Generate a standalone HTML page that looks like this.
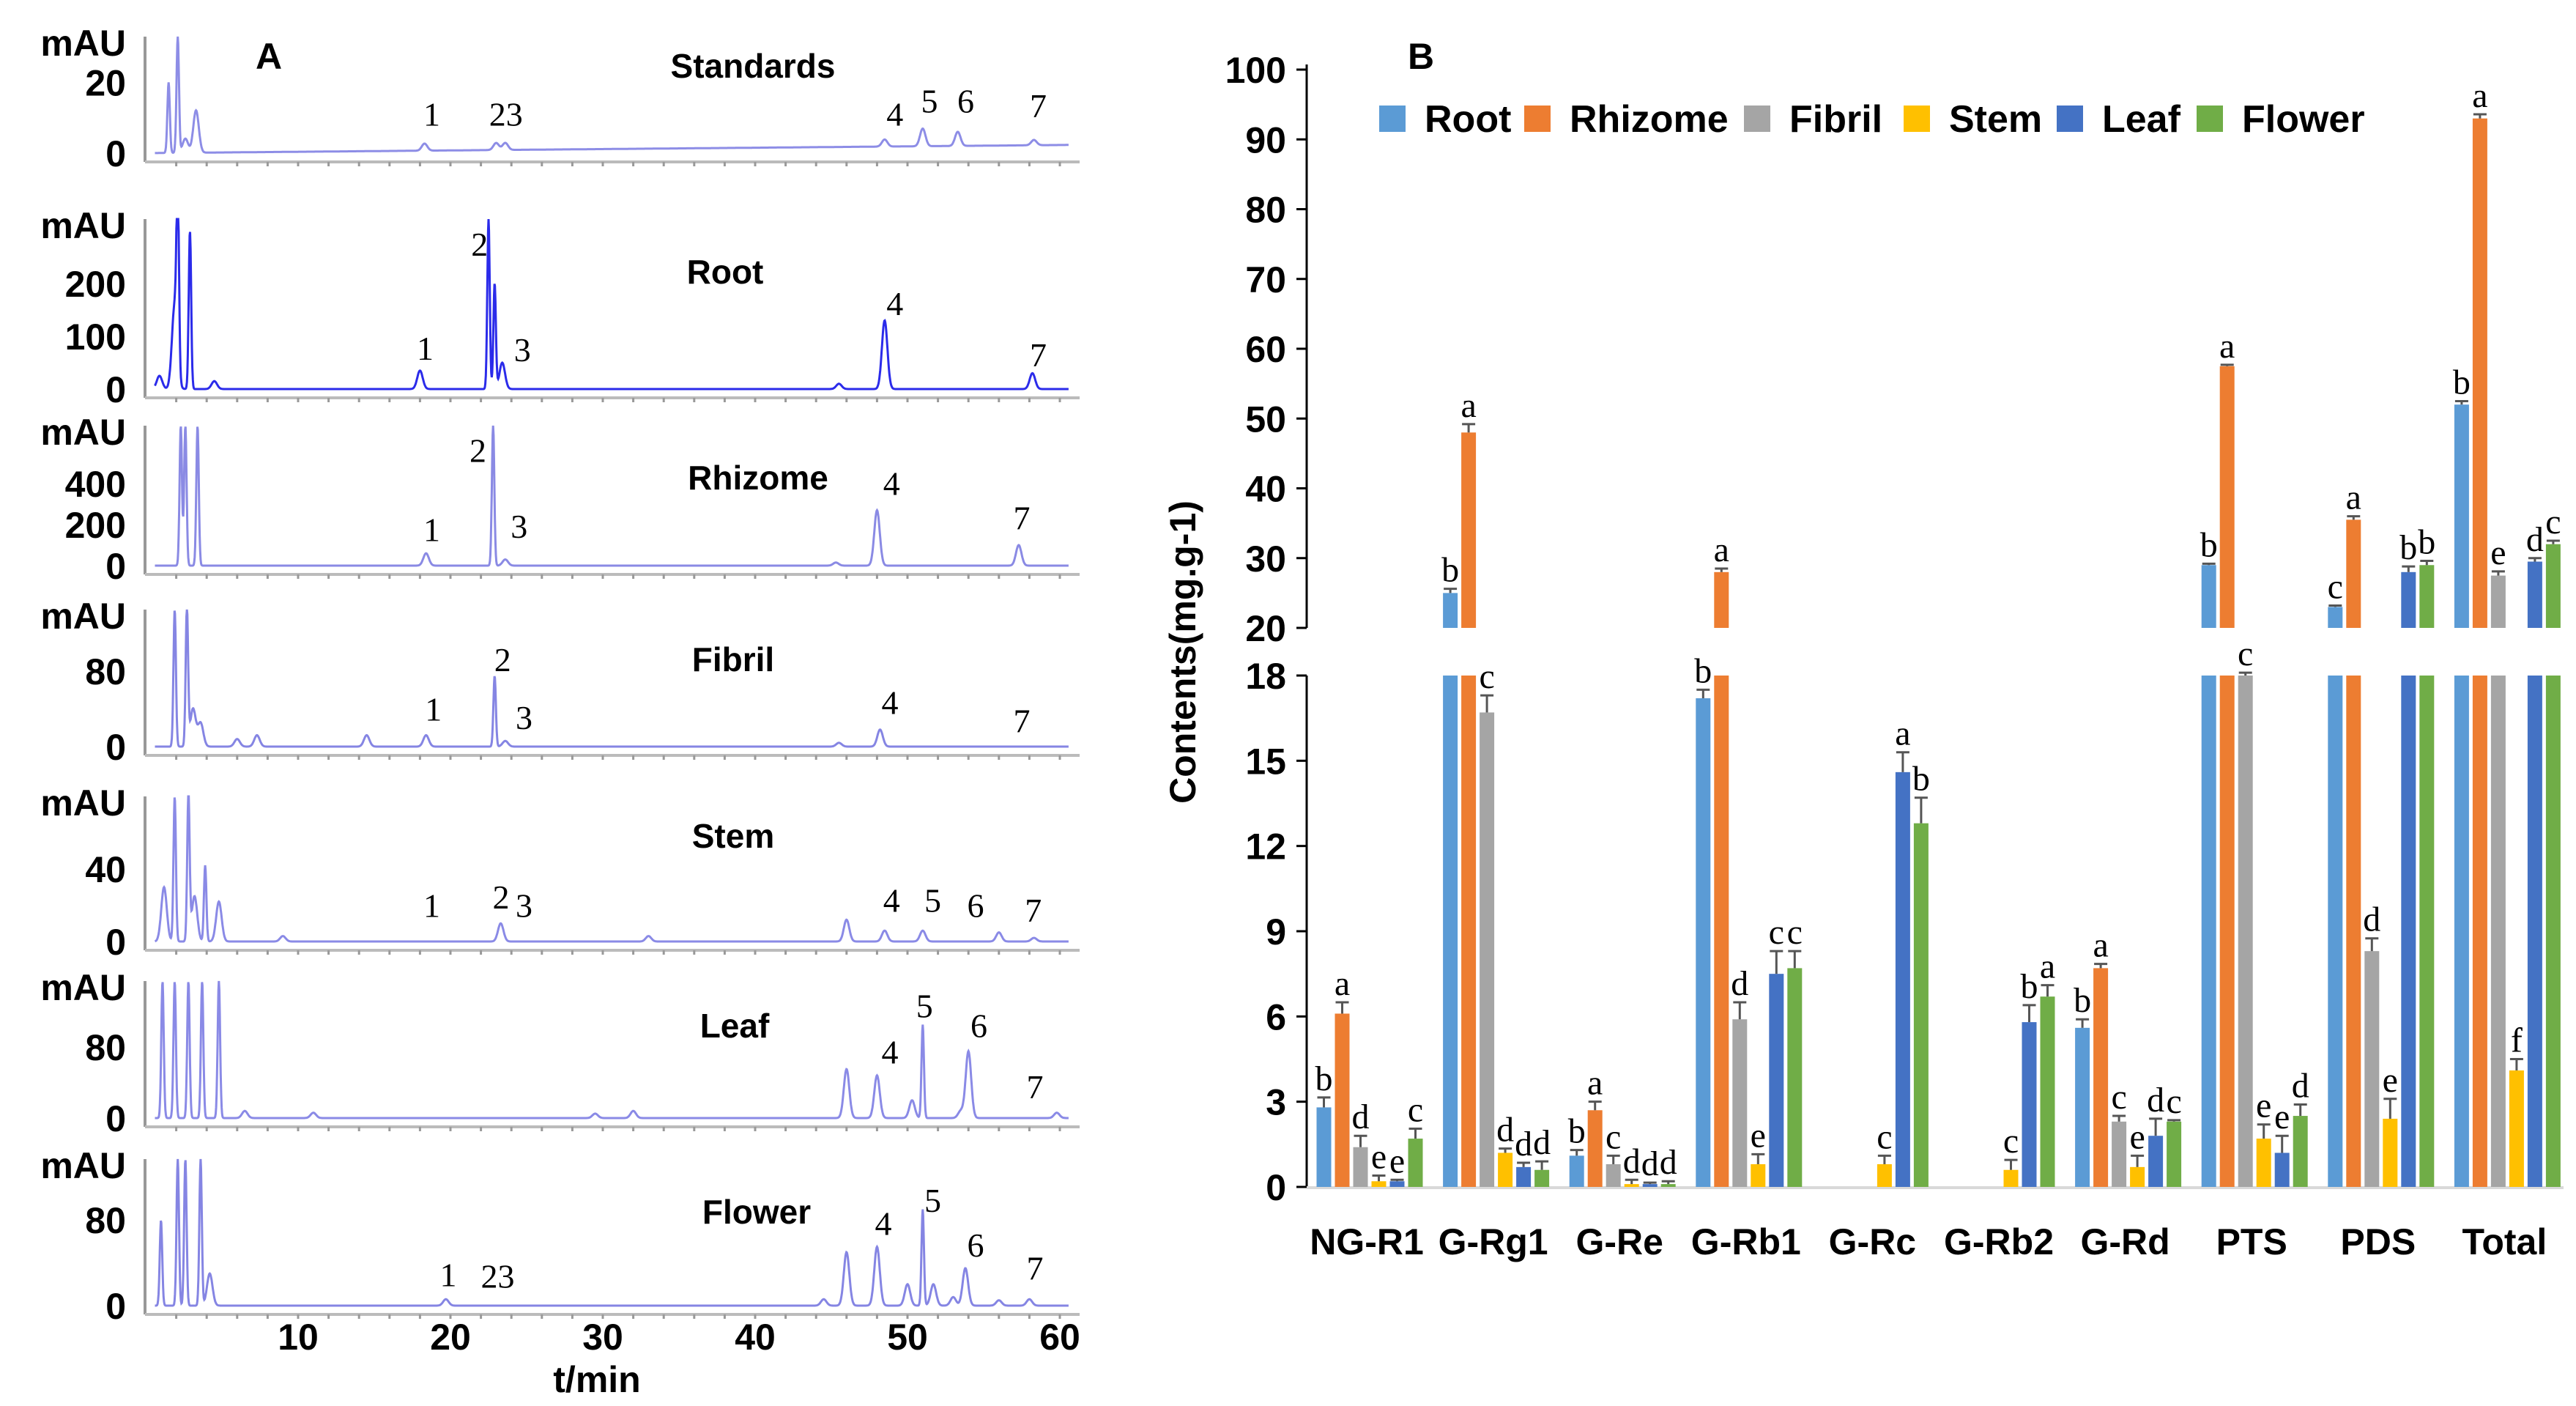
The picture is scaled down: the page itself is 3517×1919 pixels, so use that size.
<!DOCTYPE html>
<html><head><meta charset="utf-8">
<style>
html,body{margin:0;padding:0;background:#fff;}
svg{display:block;}
.tk{font-family:"Liberation Sans Narrow","Liberation Sans",sans-serif;font-weight:bold;font-size:50px;fill:#000;}
.tt{font-family:"Liberation Sans",sans-serif;font-weight:bold;font-size:46px;fill:#000;}
.pk{font-family:"Liberation Serif",serif;font-size:46px;fill:#000;}
.bt{font-family:"Liberation Sans",sans-serif;font-weight:bold;font-size:50px;fill:#000;}
.lg{font-family:"Liberation Sans",sans-serif;font-weight:bold;font-size:52px;fill:#000;}
.lt{font-family:"Liberation Serif",serif;font-size:48px;fill:#000;}
</style></head>
<body>
<svg id="fig" width="3517" height="1919" viewBox="0 0 3517 1919" xmlns="http://www.w3.org/2000/svg">
<g id="panelA"></g>
<g id="panelB"></g>
</svg>
<script>
// ---------- Panel A data ----------
const chromNames = ["Standards","Root","Rhizome","Fibril","Stem","Leaf","Flower"];
const chromTicks = [[0,20],[0,100,200],[0,200,400],[0,80],[0,40],[0,80],[0,80]];
const chromTop = [33,322,682,145,80,154,137];
const peaksStandards = [[1.5,20],[2.1,33],[2.6,4],[3.3,12],[18.3,2],[23,2],[23.6,2],[48.5,2],[51,5],[53.3,4],[58.3,1.5]];
const peaksRoot = [[0.9,25],[1.9,160],[2.1,322],[2.9,300],[4.5,15],[18,35],[22.5,322],[22.9,200],[23.4,50],[45.5,10],[48.5,130],[58.2,30]];
const peaksRhizome = [[2.3,682],[2.6,682],[3.4,682],[18.4,60],[22.8,682],[23.6,30],[45.3,15],[48,270],[57.3,100]];
const peaksFibril = [[1.9,145],[2.7,145],[3.1,40],[3.6,25],[6.0,8],[7.3,12],[14.5,12],[18.4,12],[22.9,75],[23.6,6],[45.5,4],[48.2,18]];
const peaksStem = [[1.2,30],[1.9,80],[2.8,80],[3.2,25],[3.9,42],[4.8,22],[9,3],[23.3,10],[33,3],[46,12],[48.5,6],[51,6],[56,5],[58.3,2]];
const peaksLeaf = [[1.1,154],[1.9,154],[2.8,154],[3.7,154],[4.8,154],[6.5,8],[11,6],[29.5,5],[32,8],[46,55],[48,48],[50.3,20],[51,105],[53.5,8],[54,75],[59.8,6]];
const peaksFlower = [[1.0,80],[2.1,137],[2.6,137],[3.6,137],[4.2,30],[19.7,6],[44.5,6],[46,50],[48,55],[50,20],[51,90],[51.7,20],[53,8],[53.8,35],[56,5],[58,6]];
const chromPeaks = [peaksStandards,peaksRoot,peaksRhizome,peaksFibril,peaksStem,peaksLeaf,peaksFlower];
const xTicksA = [10,20,30,40,50,60];

// ---------- Panel B data ----------
const categories = ["NG-R1","G-Rg1","G-Re","G-Rb1","G-Rc","G-Rb2","G-Rd","PTS","PDS","Total"];
const seriesNames = ["Root","Rhizome","Fibril","Stem","Leaf","Flower"];
const root    = [2.8,25,1.1,17.2,0,0,5.6,29,23,52];
const rhizome = [6.1,48,2.7,28,0,0,7.7,57.5,35.5,93];
const fibril  = [1.4,16.7,0.8,5.9,0,0,2.3,18,8.3,27.5];
const stem    = [0.2,1.2,0.1,0.8,0.8,0.6,0.7,1.7,2.4,4.1];
const leaf    = [0.2,0.7,0.1,7.5,14.6,5.8,1.8,1.2,28,29.5];
const flower  = [1.7,0.6,0.1,7.7,12.8,6.7,2.3,2.5,29,32];
const errRoot    = [0.35,0.6,0.2,0.3,0,0,0.3,0.2,0.2,0.5];
const errRhizome = [0.4,1.2,0.3,0.5,0,0,0.15,0.2,0.5,0.6];
const errFibril  = [0.4,0.6,0.3,0.6,0,0,0.2,0.1,0.45,0.6];
const errStem    = [0.2,0.15,0.15,0.35,0.3,0.35,0.4,0.5,0.7,0.4];
const errLeaf    = [0.05,0.15,0.05,0.8,0.7,0.6,0.6,0.6,0.8,0.5];
const errFlower  = [0.35,0.3,0.1,0.6,0.9,0.4,0.05,0.4,0.6,0.5];
const lettersRoot    = ["b","b","b","b","","","b","b","c","b"];
const lettersRhizome = ["a","a","a","a","","","a","a","a","a"];
const lettersFibril  = ["d","c","c","d","","","c","c","d","e"];
const lettersStem    = ["e","d","d","e","c","c","e","e","e","f"];
const lettersLeaf    = ["e","d","d","c","a","b","d","e","b","d"];
const lettersFlower  = ["c","d","d","c","b","a","c","d","b","c"];
const upperTicks = [20,30,40,50,60,70,80,90,100];
const lowerTicks = [0,3,6,9,12,15,18];
const colors = ["#5B9BD5","#ED7D31","#A5A5A5","#FFC000","#4472C4","#70AD47"];

const NS="http://www.w3.org/2000/svg";
function mk(tag, attrs, parent){const e=document.createElementNS(NS,tag);for(const k in attrs)e.setAttribute(k,attrs[k]);parent.appendChild(e);return e;}

// ---------- Panel A drawing ----------
const A=document.getElementById('panelA');
const ax0=198, ax1=1474;
const xA = t => 407 + (t-10)*20.8;
const panelBase=[209,531,772,1019,1285,1526,1782];
const panelTopY=[50,299,581,832,1087,1339,1582];
const lineCol=["#8d8de6","#2b2bea","#8a8ae4","#8585e3","#8a8ae6","#8a8ae6","#8585e3"];
const labelsA=[
 [["1",262,69],["23",307,69],["4",543,69],["5",564,61],["6",586,61],["7",630,64]],
 [["2",291,148],["1",258,211],["3",317,212],["4",543,184],["7",630,215]],
 [["2",290,273],["1",262,321],["3",315,319],["4",541,293],["7",620,314]],
 [["2",305,400],["1",263,430],["3",318,435],["4",540,426],["7",620,437]],
 [["1",262,549],["2",304,544],["3",318,549],["4",541,546],["5",566,546],["6",592,549],["7",627,552]],
 [["5",561,610],["6",594,622],["4",540,638],["7",628,659]],
 [["5",566,728],["4",536,742],["6",592,755],["1",272,773],["23",302,774],["7",628,769]]
];
const titlePos=[[1028,90],[990,371],[1035,652],[1001,900],[1001,1141],[1003,1400],[1033,1654]];
chromNames.forEach((nm,i)=>{
  const g=mk('g',{},A);
  
  
  const base=panelBase[i], top=panelTopY[i], yMax=chromTop[i];
  const yA=v=>base-(v/yMax)*(base-top);
  const ya=mk('line',{x1:ax0,y1:top,x2:ax0,y2:base+12,stroke:"#999","stroke-width":4},g);
  
  const xa=mk('line',{x1:ax0,y1:base+12,x2:ax1,y2:base+12,stroke:"#bbb","stroke-width":4},g);
  
  for(let t=2;t<=60;t+=2){mk('line',{x1:xA(t),y1:base+12,x2:xA(t),y2:base+18,stroke:"#999","stroke-width":3},g);}
  chromTicks[i].forEach(v=>{
    const tx=mk('text',{x:172,y:yA(v)+18,"text-anchor":"end",class:"tk"},g);
    tx.textContent=v;
    
  });
  const mu=mk('text',{x:172,y:top+26,"text-anchor":"end",class:"tk"},g);
  mu.textContent="mAU";
  
  const pk=chromPeaks[i];
  let d="";
  const rise=(i===0)?2.3:0;
  for(let t=0.6;t<=60.6;t+=0.03){
    let v=rise*(t/60);
    pk.forEach(p=>{const s=(p[1]>yMax*0.5)?0.08:0.18;v+=p[1]*Math.exp(-((t-p[0])**2)/(2*s*s));});
    v=Math.min(v,yMax);
    const x=xA(t), y=yA(v);
    d+=(d?"L":"M")+x.toFixed(1)+","+y.toFixed(1);
  }
  const tr=mk('path',{d:d,fill:"none",stroke:lineCol[i],"stroke-width":3},g);
  
  const ti=mk('text',{x:titlePos[i][0],y:titlePos[i][1]+16,"text-anchor":"middle",class:"tt"},g);
  ti.textContent=nm;
  
  labelsA[i].forEach(l=>{
    const pt=mk('text',{x:l[1]*2.25,y:l[2]*2.25+16,"text-anchor":"middle",class:"pk"},g);
    pt.textContent=l[0];
    
  });
});
xTicksA.forEach(t=>{
  const tx=mk('text',{x:xA(t),y:1842,"text-anchor":"middle",class:"tk"},A);
  tx.textContent=t;
  
});
const xt=mk('text',{x:815,y:1900,"text-anchor":"middle",class:"tk"},A);
xt.textContent="t/min";

const la=mk('text',{x:367,y:94,"text-anchor":"middle",class:"bt","font-size":"56"},A);
la.textContent="A";


// ---------- Panel B drawing ----------
const B=document.getElementById('panelB');
const axX=1784, axR=3500;
const yU=v=>857-(v-20)*(857-95)/80;
const yL=v=>1620-v*(1620-922)/18;
const gx=i=>1870+i*172.6;
const step=25, bw=20;
const seriesVals=[root,rhizome,fibril,stem,leaf,flower];
const seriesErr=[errRoot,errRhizome,errFibril,errStem,errLeaf,errFlower];
const seriesLet=[lettersRoot,lettersRhizome,lettersFibril,lettersStem,lettersLeaf,lettersFlower];
let e=mk('line',{x1:axX,y1:88,x2:axX,y2:857,stroke:"#000","stroke-width":3},B);

e=mk('line',{x1:axX,y1:922,x2:axX,y2:1620,stroke:"#000","stroke-width":3},B);

e=mk('line',{x1:axX,y1:1621,x2:axR,y2:1621,stroke:"#d9d9d9","stroke-width":4},B);

upperTicks.forEach(v=>{
  mk('line',{x1:axX-14,y1:yU(v),x2:axX,y2:yU(v),stroke:"#000","stroke-width":3},B);
  const t=mk('text',{x:axX-28,y:yU(v)+18,"text-anchor":"end",class:"bt"},B);
  t.textContent=v;
  
});
lowerTicks.forEach(v=>{
  mk('line',{x1:axX-14,y1:yL(v),x2:axX,y2:yL(v),stroke:"#000","stroke-width":3},B);
  const t=mk('text',{x:axX-28,y:yL(v)+18,"text-anchor":"end",class:"bt"},B);
  t.textContent=v;
  
});
const yt=mk('text',{x:0,y:0,"text-anchor":"middle",class:"bt","font-size":"46",transform:"translate(1632,890) rotate(-90)"},B);
yt.textContent="Contents(mg.g-1)";

const lb=mk('text',{x:1940,y:94,"text-anchor":"middle",class:"bt","font-size":"56"},B);
lb.textContent="B";

categories.forEach((c,i)=>{
  const g=mk('g',{},B);
  
  
  const cx=gx(i);
  seriesVals.forEach((arr,s)=>{
    const v=arr[i]; if(v<=0) return;
    const x=cx+(s-2.5)*step-bw/2;
    const low=Math.min(v,18);
    const r=mk('rect',{x:x,y:yL(low),width:bw,height:yL(0)-yL(low),fill:colors[s]},g);
    
    
    let topY;
    if(v>20){
      const r2=mk('rect',{x:x,y:yU(v),width:bw,height:yU(20)-yU(v),fill:colors[s]},g);
      
      
      const er=seriesErr[s][i];
      const ye=yU(v+er);
      mk('line',{x1:x+bw/2,y1:yU(v),x2:x+bw/2,y2:ye,stroke:"#555","stroke-width":3},g);
      mk('line',{x1:x+bw/2-9,y1:ye,x2:x+bw/2+9,y2:ye,stroke:"#555","stroke-width":3},g);
      topY=ye;
    } else if(v<=18){
      const er=seriesErr[s][i];
      const ye=yL(v+er);
      mk('line',{x1:x+bw/2,y1:yL(v),x2:x+bw/2,y2:ye,stroke:"#555","stroke-width":3},g);
      mk('line',{x1:x+bw/2-9,y1:ye,x2:x+bw/2+9,y2:ye,stroke:"#555","stroke-width":3},g);
      topY=ye;
    } else { topY=yL(18); }
    const L=seriesLet[s][i];
    if(L){
      const t=mk('text',{x:x+bw/2,y:topY-10,"text-anchor":"middle",class:"lt"},g);
      t.textContent=L;
      
    }
  });
  const cl=mk('text',{x:cx-4,y:1712,"text-anchor":"middle",class:"bt"},g);
  cl.textContent=c;
  
});
const legX=[1901,2099,2399,2617,2826,3017];
seriesNames.forEach((n,s)=>{
  const g=mk('g',{},B);
  
  
  mk('rect',{x:legX[s]-18,y:144,width:36,height:36,fill:colors[s]},g);
  const t=mk('text',{x:legX[s]+44,y:180,class:"lg"},g);
  t.textContent=n;
});
</script>
</body></html>
